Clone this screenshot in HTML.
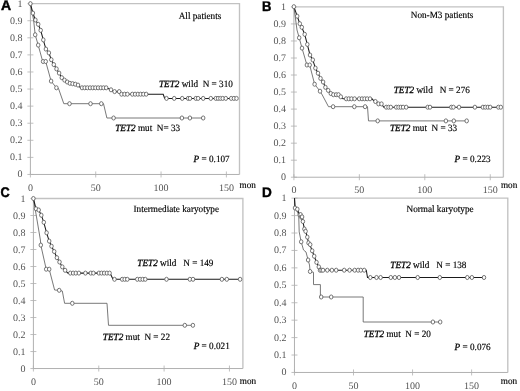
<!DOCTYPE html><html><head><meta charset="utf-8"><style>html,body{margin:0;padding:0;background:#fff;overflow:hidden}svg{display:block;filter:blur(0.3px);text-rendering:geometricPrecision}</style></head><body>
<svg width="520" height="391" viewBox="0 0 520 391">
<rect width="520" height="391" fill="#fff"/>
<g><path d="M30.4,3.65H239.5V174.46" fill="none" stroke="#c2c2c2" stroke-width="1.35"/><path d="M30.4,3.65V174.46H239.5" fill="none" stroke="#b0b0b0" stroke-width="1"/><path d="M27.4,174.46H33.4" stroke="#b0b0b0" stroke-width="0.8"/><text x="22.4" y="177.46" text-anchor="end" font-family='"Liberation Serif", serif' font-size="10" fill="#555555">0</text><path d="M27.4,157.38H33.4" stroke="#b0b0b0" stroke-width="0.8"/><text x="22.4" y="160.38" text-anchor="end" font-family='"Liberation Serif", serif' font-size="10" fill="#555555">0.1</text><path d="M27.4,140.3H33.4" stroke="#b0b0b0" stroke-width="0.8"/><text x="22.4" y="143.3" text-anchor="end" font-family='"Liberation Serif", serif' font-size="10" fill="#555555">0.2</text><path d="M27.4,123.22H33.4" stroke="#b0b0b0" stroke-width="0.8"/><text x="22.4" y="126.22" text-anchor="end" font-family='"Liberation Serif", serif' font-size="10" fill="#555555">0.3</text><path d="M27.4,106.14H33.4" stroke="#b0b0b0" stroke-width="0.8"/><text x="22.4" y="109.14" text-anchor="end" font-family='"Liberation Serif", serif' font-size="10" fill="#555555">0.4</text><path d="M27.4,89.06H33.4" stroke="#b0b0b0" stroke-width="0.8"/><text x="22.4" y="92.06" text-anchor="end" font-family='"Liberation Serif", serif' font-size="10" fill="#555555">0.5</text><path d="M27.4,71.97H33.4" stroke="#b0b0b0" stroke-width="0.8"/><text x="22.4" y="74.97" text-anchor="end" font-family='"Liberation Serif", serif' font-size="10" fill="#555555">0.6</text><path d="M27.4,54.89H33.4" stroke="#b0b0b0" stroke-width="0.8"/><text x="22.4" y="57.89" text-anchor="end" font-family='"Liberation Serif", serif' font-size="10" fill="#555555">0.7</text><path d="M27.4,37.81H33.4" stroke="#b0b0b0" stroke-width="0.8"/><text x="22.4" y="40.81" text-anchor="end" font-family='"Liberation Serif", serif' font-size="10" fill="#555555">0.8</text><path d="M27.4,20.73H33.4" stroke="#b0b0b0" stroke-width="0.8"/><text x="22.4" y="23.73" text-anchor="end" font-family='"Liberation Serif", serif' font-size="10" fill="#555555">0.9</text><path d="M27.4,3.65H33.4" stroke="#b0b0b0" stroke-width="0.8"/><text x="22.4" y="6.65" text-anchor="end" font-family='"Liberation Serif", serif' font-size="10" fill="#555555">1</text><path d="M30.4,171.46V177.46" stroke="#b0b0b0" stroke-width="0.8"/><text x="30.4" y="190.6" text-anchor="middle" font-family='"Liberation Serif", serif' font-size="10" fill="#555555">0</text><path d="M95.73,171.46V177.46" stroke="#b0b0b0" stroke-width="0.8"/><text x="95.73" y="190.6" text-anchor="middle" font-family='"Liberation Serif", serif' font-size="10" fill="#555555">50</text><path d="M161.06,171.46V177.46" stroke="#b0b0b0" stroke-width="0.8"/><text x="161.06" y="190.6" text-anchor="middle" font-family='"Liberation Serif", serif' font-size="10" fill="#555555">100</text><path d="M226.39,171.46V177.46" stroke="#b0b0b0" stroke-width="0.8"/><text x="226.39" y="190.6" text-anchor="middle" font-family='"Liberation Serif", serif' font-size="10" fill="#555555">150</text><text x="239.6" y="187.8" font-family='"Liberation Serif", serif' font-size="9.6" fill="#000" stroke="#000" stroke-width="0.15" textLength="16.34" lengthAdjust="spacingAndGlyphs">mon</text><text x="1.1" y="10.4" font-family='"Liberation Sans", sans-serif' font-weight="bold" font-size="14" fill="#000" stroke="#000" stroke-width="0.45">A</text><polyline points="30.4,3.65 33.6,20 35.2,34.8 38.2,45.1 42.3,60 43.1,61.5 45.7,61.5 51.1,81.1 56.4,87.8 58.5,88.5 63.8,103.7 103.5,103.7 106.9,118 203.2,118" fill="none" stroke="#6a6a6a" stroke-width="0.9"/><polyline points="30.4,3.65 32.9,13.1 35.4,20 38.2,24.3 40.7,30.3 43.3,39.9 45.9,49.1 48.9,52.9 51.3,59.7 53.8,64.6 56.5,68.9 59.1,73.1 61.8,77.7 64.5,80.1 67.2,82 69.9,83.3 72.6,83.7 75.3,84.2 78,85.1 80.5,87.8 106.5,87.8 111,89.8 113.6,91.6 119.2,91.6 121.5,94.2 163.2,94.2 164.7,98.4 236.5,98.4" fill="none" stroke="#1a1a1a" stroke-width="1.05"/><ellipse cx="30.4" cy="3.65" rx="1.75" ry="2.05" fill="#fff" stroke="#555" stroke-width="0.8"/><ellipse cx="35.2" cy="34.8" rx="1.75" ry="2.05" fill="#fff" stroke="#555" stroke-width="0.8"/><ellipse cx="38.2" cy="45.1" rx="1.75" ry="2.05" fill="#fff" stroke="#555" stroke-width="0.8"/><ellipse cx="43.1" cy="61.5" rx="1.75" ry="2.05" fill="#fff" stroke="#555" stroke-width="0.8"/><ellipse cx="45.7" cy="61.5" rx="1.75" ry="2.05" fill="#fff" stroke="#555" stroke-width="0.8"/><ellipse cx="51.1" cy="81.1" rx="1.75" ry="2.05" fill="#fff" stroke="#555" stroke-width="0.8"/><ellipse cx="56.4" cy="87.8" rx="1.75" ry="2.05" fill="#fff" stroke="#555" stroke-width="0.8"/><ellipse cx="69.5" cy="103.7" rx="1.75" ry="2.05" fill="#fff" stroke="#555" stroke-width="0.8"/><ellipse cx="90.5" cy="103.7" rx="1.75" ry="2.05" fill="#fff" stroke="#555" stroke-width="0.8"/><ellipse cx="101.3" cy="103.7" rx="1.75" ry="2.05" fill="#fff" stroke="#555" stroke-width="0.8"/><ellipse cx="113.6" cy="118" rx="1.75" ry="2.05" fill="#fff" stroke="#555" stroke-width="0.8"/><ellipse cx="181.9" cy="118" rx="1.75" ry="2.05" fill="#fff" stroke="#555" stroke-width="0.8"/><ellipse cx="189.9" cy="118" rx="1.75" ry="2.05" fill="#fff" stroke="#555" stroke-width="0.8"/><ellipse cx="203.2" cy="118" rx="1.75" ry="2.05" fill="#fff" stroke="#555" stroke-width="0.8"/><ellipse cx="32.9" cy="13.1" rx="1.75" ry="2.05" fill="#fff" stroke="#555" stroke-width="0.8"/><ellipse cx="35.4" cy="20" rx="1.75" ry="2.05" fill="#fff" stroke="#555" stroke-width="0.8"/><ellipse cx="38.2" cy="24.3" rx="1.75" ry="2.05" fill="#fff" stroke="#555" stroke-width="0.8"/><ellipse cx="40.7" cy="30.3" rx="1.75" ry="2.05" fill="#fff" stroke="#555" stroke-width="0.8"/><ellipse cx="43.3" cy="39.9" rx="1.75" ry="2.05" fill="#fff" stroke="#555" stroke-width="0.8"/><ellipse cx="45.9" cy="49.1" rx="1.75" ry="2.05" fill="#fff" stroke="#555" stroke-width="0.8"/><ellipse cx="48.9" cy="52.9" rx="1.75" ry="2.05" fill="#fff" stroke="#555" stroke-width="0.8"/><ellipse cx="51.3" cy="59.7" rx="1.75" ry="2.05" fill="#fff" stroke="#555" stroke-width="0.8"/><ellipse cx="53.8" cy="64.6" rx="1.75" ry="2.05" fill="#fff" stroke="#555" stroke-width="0.8"/><ellipse cx="56.5" cy="68.9" rx="1.75" ry="2.05" fill="#fff" stroke="#555" stroke-width="0.8"/><ellipse cx="59.1" cy="73.1" rx="1.75" ry="2.05" fill="#fff" stroke="#555" stroke-width="0.8"/><ellipse cx="61.8" cy="77.7" rx="1.75" ry="2.05" fill="#fff" stroke="#555" stroke-width="0.8"/><ellipse cx="64.5" cy="80.1" rx="1.75" ry="2.05" fill="#fff" stroke="#555" stroke-width="0.8"/><ellipse cx="67.2" cy="82" rx="1.75" ry="2.05" fill="#fff" stroke="#555" stroke-width="0.8"/><ellipse cx="69.9" cy="83.3" rx="1.75" ry="2.05" fill="#fff" stroke="#555" stroke-width="0.8"/><ellipse cx="72.6" cy="83.7" rx="1.75" ry="2.05" fill="#fff" stroke="#555" stroke-width="0.8"/><ellipse cx="75.3" cy="84.2" rx="1.75" ry="2.05" fill="#fff" stroke="#555" stroke-width="0.8"/><ellipse cx="78" cy="85.1" rx="1.75" ry="2.05" fill="#fff" stroke="#555" stroke-width="0.8"/><ellipse cx="82" cy="87.8" rx="1.75" ry="2.05" fill="#fff" stroke="#555" stroke-width="0.8"/><ellipse cx="84.69" cy="87.8" rx="1.75" ry="2.05" fill="#fff" stroke="#555" stroke-width="0.8"/><ellipse cx="87.38" cy="87.8" rx="1.75" ry="2.05" fill="#fff" stroke="#555" stroke-width="0.8"/><ellipse cx="90.07" cy="87.8" rx="1.75" ry="2.05" fill="#fff" stroke="#555" stroke-width="0.8"/><ellipse cx="92.76" cy="87.8" rx="1.75" ry="2.05" fill="#fff" stroke="#555" stroke-width="0.8"/><ellipse cx="95.44" cy="87.8" rx="1.75" ry="2.05" fill="#fff" stroke="#555" stroke-width="0.8"/><ellipse cx="98.13" cy="87.8" rx="1.75" ry="2.05" fill="#fff" stroke="#555" stroke-width="0.8"/><ellipse cx="100.82" cy="87.8" rx="1.75" ry="2.05" fill="#fff" stroke="#555" stroke-width="0.8"/><ellipse cx="103.51" cy="87.8" rx="1.75" ry="2.05" fill="#fff" stroke="#555" stroke-width="0.8"/><ellipse cx="106.2" cy="87.8" rx="1.75" ry="2.05" fill="#fff" stroke="#555" stroke-width="0.8"/><ellipse cx="111" cy="89.8" rx="1.75" ry="2.05" fill="#fff" stroke="#555" stroke-width="0.8"/><ellipse cx="114.6" cy="91.6" rx="1.75" ry="2.05" fill="#fff" stroke="#555" stroke-width="0.8"/><ellipse cx="119.2" cy="91.6" rx="1.75" ry="2.05" fill="#fff" stroke="#555" stroke-width="0.8"/><ellipse cx="121.5" cy="94.2" rx="1.75" ry="2.05" fill="#fff" stroke="#555" stroke-width="0.8"/><ellipse cx="124.6" cy="94.2" rx="1.75" ry="2.05" fill="#fff" stroke="#555" stroke-width="0.8"/><ellipse cx="127.4" cy="94.2" rx="1.75" ry="2.05" fill="#fff" stroke="#555" stroke-width="0.8"/><ellipse cx="132.3" cy="94.2" rx="1.75" ry="2.05" fill="#fff" stroke="#555" stroke-width="0.8"/><ellipse cx="135.08" cy="94.2" rx="1.75" ry="2.05" fill="#fff" stroke="#555" stroke-width="0.8"/><ellipse cx="137.86" cy="94.2" rx="1.75" ry="2.05" fill="#fff" stroke="#555" stroke-width="0.8"/><ellipse cx="140.64" cy="94.2" rx="1.75" ry="2.05" fill="#fff" stroke="#555" stroke-width="0.8"/><ellipse cx="143.42" cy="94.2" rx="1.75" ry="2.05" fill="#fff" stroke="#555" stroke-width="0.8"/><ellipse cx="146.2" cy="94.2" rx="1.75" ry="2.05" fill="#fff" stroke="#555" stroke-width="0.8"/><ellipse cx="166.5" cy="98.4" rx="1.75" ry="2.05" fill="#fff" stroke="#555" stroke-width="0.8"/><ellipse cx="174.2" cy="98.4" rx="1.75" ry="2.05" fill="#fff" stroke="#555" stroke-width="0.8"/><ellipse cx="182.2" cy="98.4" rx="1.75" ry="2.05" fill="#fff" stroke="#555" stroke-width="0.8"/><ellipse cx="188.1" cy="98.4" rx="1.75" ry="2.05" fill="#fff" stroke="#555" stroke-width="0.8"/><ellipse cx="190" cy="98.4" rx="1.75" ry="2.05" fill="#fff" stroke="#555" stroke-width="0.8"/><ellipse cx="195.8" cy="98.4" rx="1.75" ry="2.05" fill="#fff" stroke="#555" stroke-width="0.8"/><ellipse cx="198.1" cy="98.4" rx="1.75" ry="2.05" fill="#fff" stroke="#555" stroke-width="0.8"/><ellipse cx="203.2" cy="98.4" rx="1.75" ry="2.05" fill="#fff" stroke="#555" stroke-width="0.8"/><ellipse cx="210.8" cy="98.4" rx="1.75" ry="2.05" fill="#fff" stroke="#555" stroke-width="0.8"/><ellipse cx="215.8" cy="98.4" rx="1.75" ry="2.05" fill="#fff" stroke="#555" stroke-width="0.8"/><ellipse cx="218.1" cy="98.4" rx="1.75" ry="2.05" fill="#fff" stroke="#555" stroke-width="0.8"/><ellipse cx="220.4" cy="98.4" rx="1.75" ry="2.05" fill="#fff" stroke="#555" stroke-width="0.8"/><ellipse cx="222.7" cy="98.4" rx="1.75" ry="2.05" fill="#fff" stroke="#555" stroke-width="0.8"/><ellipse cx="225.8" cy="98.4" rx="1.75" ry="2.05" fill="#fff" stroke="#555" stroke-width="0.8"/><ellipse cx="231.2" cy="98.4" rx="1.75" ry="2.05" fill="#fff" stroke="#555" stroke-width="0.8"/><ellipse cx="233.9" cy="98.4" rx="1.75" ry="2.05" fill="#fff" stroke="#555" stroke-width="0.8"/><ellipse cx="236.5" cy="98.4" rx="1.75" ry="2.05" fill="#fff" stroke="#555" stroke-width="0.8"/><text x="178.7" y="18.6" font-family='"Liberation Serif", serif' font-size="9.6" fill="#000" stroke="#000" stroke-width="0.16" xml:space="preserve" textLength="42.62" lengthAdjust="spacingAndGlyphs">All patients</text><text x="159" y="86.8" font-family='"Liberation Serif", serif' font-size="9.6" fill="#000" stroke="#000" stroke-width="0.16" xml:space="preserve" textLength="73.86" lengthAdjust="spacingAndGlyphs"><tspan font-style="italic" stroke-width="0.28">TET2</tspan> wild  N = 310</text><text x="115.2" y="130.8" font-family='"Liberation Serif", serif' font-size="9.6" fill="#000" stroke="#000" stroke-width="0.16" xml:space="preserve" textLength="64.92" lengthAdjust="spacingAndGlyphs"><tspan font-style="italic" stroke-width="0.28">TET2</tspan> mut  N= 33</text><text x="193.6" y="161.9" font-family='"Liberation Serif", serif' font-size="9.6" fill="#000" stroke="#000" stroke-width="0.16" xml:space="preserve" textLength="36.08" lengthAdjust="spacingAndGlyphs"><tspan font-style="italic" stroke-width="0.28">P</tspan> = 0.107</text></g>
<g><path d="M293.9,6.9H503.4V177.23" fill="none" stroke="#c2c2c2" stroke-width="1.35"/><path d="M293.9,6.9V177.23H503.4" fill="none" stroke="#b0b0b0" stroke-width="1"/><path d="M290.9,177.23H296.9" stroke="#b0b0b0" stroke-width="0.8"/><text x="285.9" y="180.23" text-anchor="end" font-family='"Liberation Serif", serif' font-size="10" fill="#555555">0</text><path d="M290.9,160.2H296.9" stroke="#b0b0b0" stroke-width="0.8"/><text x="285.9" y="163.2" text-anchor="end" font-family='"Liberation Serif", serif' font-size="10" fill="#555555">0.1</text><path d="M290.9,143.16H296.9" stroke="#b0b0b0" stroke-width="0.8"/><text x="285.9" y="146.16" text-anchor="end" font-family='"Liberation Serif", serif' font-size="10" fill="#555555">0.2</text><path d="M290.9,126.13H296.9" stroke="#b0b0b0" stroke-width="0.8"/><text x="285.9" y="129.13" text-anchor="end" font-family='"Liberation Serif", serif' font-size="10" fill="#555555">0.3</text><path d="M290.9,109.1H296.9" stroke="#b0b0b0" stroke-width="0.8"/><text x="285.9" y="112.1" text-anchor="end" font-family='"Liberation Serif", serif' font-size="10" fill="#555555">0.4</text><path d="M290.9,92.06H296.9" stroke="#b0b0b0" stroke-width="0.8"/><text x="285.9" y="95.06" text-anchor="end" font-family='"Liberation Serif", serif' font-size="10" fill="#555555">0.5</text><path d="M290.9,75.03H296.9" stroke="#b0b0b0" stroke-width="0.8"/><text x="285.9" y="78.03" text-anchor="end" font-family='"Liberation Serif", serif' font-size="10" fill="#555555">0.6</text><path d="M290.9,58H296.9" stroke="#b0b0b0" stroke-width="0.8"/><text x="285.9" y="61" text-anchor="end" font-family='"Liberation Serif", serif' font-size="10" fill="#555555">0.7</text><path d="M290.9,40.97H296.9" stroke="#b0b0b0" stroke-width="0.8"/><text x="285.9" y="43.97" text-anchor="end" font-family='"Liberation Serif", serif' font-size="10" fill="#555555">0.8</text><path d="M290.9,23.93H296.9" stroke="#b0b0b0" stroke-width="0.8"/><text x="285.9" y="26.93" text-anchor="end" font-family='"Liberation Serif", serif' font-size="10" fill="#555555">0.9</text><path d="M290.9,6.9H296.9" stroke="#b0b0b0" stroke-width="0.8"/><text x="285.9" y="9.9" text-anchor="end" font-family='"Liberation Serif", serif' font-size="10" fill="#555555">1</text><path d="M293.9,174.23V180.23" stroke="#b0b0b0" stroke-width="0.8"/><text x="293.9" y="193" text-anchor="middle" font-family='"Liberation Serif", serif' font-size="10" fill="#555555">0</text><path d="M359.35,174.23V180.23" stroke="#b0b0b0" stroke-width="0.8"/><text x="359.35" y="193" text-anchor="middle" font-family='"Liberation Serif", serif' font-size="10" fill="#555555">50</text><path d="M424.8,174.23V180.23" stroke="#b0b0b0" stroke-width="0.8"/><text x="424.8" y="193" text-anchor="middle" font-family='"Liberation Serif", serif' font-size="10" fill="#555555">100</text><path d="M490.25,174.23V180.23" stroke="#b0b0b0" stroke-width="0.8"/><text x="490.25" y="193" text-anchor="middle" font-family='"Liberation Serif", serif' font-size="10" fill="#555555">150</text><text x="500.9" y="187.5" font-family='"Liberation Serif", serif' font-size="9.6" fill="#000" stroke="#000" stroke-width="0.15" textLength="16.34" lengthAdjust="spacingAndGlyphs">mon</text><text x="261.9" y="11.1" font-family='"Liberation Sans", sans-serif' font-weight="bold" font-size="14" fill="#000" stroke="#000" stroke-width="0.45" textLength="9.4" lengthAdjust="spacingAndGlyphs">B</text><polyline points="293.9,6.7 297,30 299.2,37.8 302,48.1 306.9,65 309.7,65 314.6,84.2 320,91.2 322.3,95 328.5,106.7 367.5,106.7 368.5,120.9 466.7,120.9" fill="none" stroke="#6a6a6a" stroke-width="0.9"/><polyline points="293.9,6.7 297.2,16.2 299.8,23.7 301.8,27.3 304.7,34.3 307.3,44.4 310,55 312.8,59.9 315.4,68.1 318,73.2 320.5,78.4 323.1,82 325.4,87.3 328.2,90.4 330.8,93.5 333.4,94.7 338.5,94.7 340.8,96.8 343,98.8 372,98.8 374.6,101.5 376.5,101.5 378.5,103.9 381.5,103.9 383.8,107.2 500.8,107.2" fill="none" stroke="#1a1a1a" stroke-width="1.05"/><ellipse cx="293.9" cy="6.7" rx="1.75" ry="2.05" fill="#fff" stroke="#555" stroke-width="0.8"/><ellipse cx="299.2" cy="37.8" rx="1.75" ry="2.05" fill="#fff" stroke="#555" stroke-width="0.8"/><ellipse cx="302" cy="48.1" rx="1.75" ry="2.05" fill="#fff" stroke="#555" stroke-width="0.8"/><ellipse cx="306.9" cy="65" rx="1.75" ry="2.05" fill="#fff" stroke="#555" stroke-width="0.8"/><ellipse cx="309.7" cy="65" rx="1.75" ry="2.05" fill="#fff" stroke="#555" stroke-width="0.8"/><ellipse cx="314.6" cy="84.2" rx="1.75" ry="2.05" fill="#fff" stroke="#555" stroke-width="0.8"/><ellipse cx="320" cy="91.2" rx="1.75" ry="2.05" fill="#fff" stroke="#555" stroke-width="0.8"/><ellipse cx="333.1" cy="106.7" rx="1.75" ry="2.05" fill="#fff" stroke="#555" stroke-width="0.8"/><ellipse cx="354.3" cy="106.7" rx="1.75" ry="2.05" fill="#fff" stroke="#555" stroke-width="0.8"/><ellipse cx="365.1" cy="106.7" rx="1.75" ry="2.05" fill="#fff" stroke="#555" stroke-width="0.8"/><ellipse cx="377.7" cy="120.9" rx="1.75" ry="2.05" fill="#fff" stroke="#555" stroke-width="0.8"/><ellipse cx="445.9" cy="120.9" rx="1.75" ry="2.05" fill="#fff" stroke="#555" stroke-width="0.8"/><ellipse cx="453.8" cy="120.9" rx="1.75" ry="2.05" fill="#fff" stroke="#555" stroke-width="0.8"/><ellipse cx="466.7" cy="120.9" rx="1.75" ry="2.05" fill="#fff" stroke="#555" stroke-width="0.8"/><ellipse cx="297.2" cy="16.2" rx="1.75" ry="2.05" fill="#fff" stroke="#555" stroke-width="0.8"/><ellipse cx="299.8" cy="23.7" rx="1.75" ry="2.05" fill="#fff" stroke="#555" stroke-width="0.8"/><ellipse cx="301.8" cy="27.3" rx="1.75" ry="2.05" fill="#fff" stroke="#555" stroke-width="0.8"/><ellipse cx="304.7" cy="34.3" rx="1.75" ry="2.05" fill="#fff" stroke="#555" stroke-width="0.8"/><ellipse cx="307.3" cy="44.4" rx="1.75" ry="2.05" fill="#fff" stroke="#555" stroke-width="0.8"/><ellipse cx="310" cy="55" rx="1.75" ry="2.05" fill="#fff" stroke="#555" stroke-width="0.8"/><ellipse cx="312.8" cy="59.9" rx="1.75" ry="2.05" fill="#fff" stroke="#555" stroke-width="0.8"/><ellipse cx="315.4" cy="68.1" rx="1.75" ry="2.05" fill="#fff" stroke="#555" stroke-width="0.8"/><ellipse cx="318" cy="73.2" rx="1.75" ry="2.05" fill="#fff" stroke="#555" stroke-width="0.8"/><ellipse cx="320.5" cy="78.4" rx="1.75" ry="2.05" fill="#fff" stroke="#555" stroke-width="0.8"/><ellipse cx="323.1" cy="82" rx="1.75" ry="2.05" fill="#fff" stroke="#555" stroke-width="0.8"/><ellipse cx="325.4" cy="87.3" rx="1.75" ry="2.05" fill="#fff" stroke="#555" stroke-width="0.8"/><ellipse cx="328.2" cy="90.4" rx="1.75" ry="2.05" fill="#fff" stroke="#555" stroke-width="0.8"/><ellipse cx="330.8" cy="93.5" rx="1.75" ry="2.05" fill="#fff" stroke="#555" stroke-width="0.8"/><ellipse cx="333.4" cy="94.7" rx="1.75" ry="2.05" fill="#fff" stroke="#555" stroke-width="0.8"/><ellipse cx="336.2" cy="94.7" rx="1.75" ry="2.05" fill="#fff" stroke="#555" stroke-width="0.8"/><ellipse cx="338.5" cy="94.7" rx="1.75" ry="2.05" fill="#fff" stroke="#555" stroke-width="0.8"/><ellipse cx="340.8" cy="96.8" rx="1.75" ry="2.05" fill="#fff" stroke="#555" stroke-width="0.8"/><ellipse cx="346.2" cy="98.8" rx="1.75" ry="2.05" fill="#fff" stroke="#555" stroke-width="0.8"/><ellipse cx="348.8" cy="98.8" rx="1.75" ry="2.05" fill="#fff" stroke="#555" stroke-width="0.8"/><ellipse cx="351.5" cy="98.8" rx="1.75" ry="2.05" fill="#fff" stroke="#555" stroke-width="0.8"/><ellipse cx="354.6" cy="98.8" rx="1.75" ry="2.05" fill="#fff" stroke="#555" stroke-width="0.8"/><ellipse cx="359.2" cy="98.8" rx="1.75" ry="2.05" fill="#fff" stroke="#555" stroke-width="0.8"/><ellipse cx="362" cy="98.8" rx="1.75" ry="2.05" fill="#fff" stroke="#555" stroke-width="0.8"/><ellipse cx="364.6" cy="98.8" rx="1.75" ry="2.05" fill="#fff" stroke="#555" stroke-width="0.8"/><ellipse cx="367.2" cy="98.8" rx="1.75" ry="2.05" fill="#fff" stroke="#555" stroke-width="0.8"/><ellipse cx="370" cy="98.8" rx="1.75" ry="2.05" fill="#fff" stroke="#555" stroke-width="0.8"/><ellipse cx="375.4" cy="101.5" rx="1.75" ry="2.05" fill="#fff" stroke="#555" stroke-width="0.8"/><ellipse cx="378.5" cy="103.9" rx="1.75" ry="2.05" fill="#fff" stroke="#555" stroke-width="0.8"/><ellipse cx="381.5" cy="103.9" rx="1.75" ry="2.05" fill="#fff" stroke="#555" stroke-width="0.8"/><ellipse cx="386.2" cy="107.2" rx="1.75" ry="2.05" fill="#fff" stroke="#555" stroke-width="0.8"/><ellipse cx="388.5" cy="107.2" rx="1.75" ry="2.05" fill="#fff" stroke="#555" stroke-width="0.8"/><ellipse cx="390.8" cy="107.2" rx="1.75" ry="2.05" fill="#fff" stroke="#555" stroke-width="0.8"/><ellipse cx="396.2" cy="107.2" rx="1.75" ry="2.05" fill="#fff" stroke="#555" stroke-width="0.8"/><ellipse cx="398.5" cy="107.2" rx="1.75" ry="2.05" fill="#fff" stroke="#555" stroke-width="0.8"/><ellipse cx="400.8" cy="107.2" rx="1.75" ry="2.05" fill="#fff" stroke="#555" stroke-width="0.8"/><ellipse cx="403.1" cy="107.2" rx="1.75" ry="2.05" fill="#fff" stroke="#555" stroke-width="0.8"/><ellipse cx="406.2" cy="107.2" rx="1.75" ry="2.05" fill="#fff" stroke="#555" stroke-width="0.8"/><ellipse cx="427.7" cy="107.2" rx="1.75" ry="2.05" fill="#fff" stroke="#555" stroke-width="0.8"/><ellipse cx="430" cy="107.2" rx="1.75" ry="2.05" fill="#fff" stroke="#555" stroke-width="0.8"/><ellipse cx="451.3" cy="107.2" rx="1.75" ry="2.05" fill="#fff" stroke="#555" stroke-width="0.8"/><ellipse cx="453.4" cy="107.2" rx="1.75" ry="2.05" fill="#fff" stroke="#555" stroke-width="0.8"/><ellipse cx="459" cy="107.2" rx="1.75" ry="2.05" fill="#fff" stroke="#555" stroke-width="0.8"/><ellipse cx="474.9" cy="107.2" rx="1.75" ry="2.05" fill="#fff" stroke="#555" stroke-width="0.8"/><ellipse cx="482.9" cy="107.2" rx="1.75" ry="2.05" fill="#fff" stroke="#555" stroke-width="0.8"/><ellipse cx="485.3" cy="107.2" rx="1.75" ry="2.05" fill="#fff" stroke="#555" stroke-width="0.8"/><ellipse cx="487.8" cy="107.2" rx="1.75" ry="2.05" fill="#fff" stroke="#555" stroke-width="0.8"/><ellipse cx="490.2" cy="107.2" rx="1.75" ry="2.05" fill="#fff" stroke="#555" stroke-width="0.8"/><ellipse cx="498.4" cy="107.2" rx="1.75" ry="2.05" fill="#fff" stroke="#555" stroke-width="0.8"/><ellipse cx="500.8" cy="107.2" rx="1.75" ry="2.05" fill="#fff" stroke="#555" stroke-width="0.8"/><text x="410.8" y="17.6" font-family='"Liberation Serif", serif' font-size="9.6" fill="#000" stroke="#000" stroke-width="0.16" xml:space="preserve" textLength="62.53" lengthAdjust="spacingAndGlyphs">Non-M3 patients</text><text x="393.7" y="92.5" font-family='"Liberation Serif", serif' font-size="9.6" fill="#000" stroke="#000" stroke-width="0.16" xml:space="preserve" textLength="76.16" lengthAdjust="spacingAndGlyphs"><tspan font-style="italic" stroke-width="0.28">TET2</tspan> wild   N = 276</text><text x="390" y="130.8" font-family='"Liberation Serif", serif' font-size="9.6" fill="#000" stroke="#000" stroke-width="0.16" xml:space="preserve" textLength="67.22" lengthAdjust="spacingAndGlyphs"><tspan font-style="italic" stroke-width="0.28">TET2</tspan> mut  N = 33</text><text x="454.6" y="162.3" font-family='"Liberation Serif", serif' font-size="9.6" fill="#000" stroke="#000" stroke-width="0.16" xml:space="preserve" textLength="36.08" lengthAdjust="spacingAndGlyphs"><tspan font-style="italic" stroke-width="0.28">P</tspan> = 0.223</text></g>
<g><path d="M33.4,198.5H242.9V368.54" fill="none" stroke="#c2c2c2" stroke-width="1.35"/><path d="M33.4,198.5V368.54H242.9" fill="none" stroke="#b0b0b0" stroke-width="1"/><path d="M30.4,368.54H36.4" stroke="#b0b0b0" stroke-width="0.8"/><text x="25.4" y="371.54" text-anchor="end" font-family='"Liberation Serif", serif' font-size="10" fill="#555555">0</text><path d="M30.4,351.54H36.4" stroke="#b0b0b0" stroke-width="0.8"/><text x="25.4" y="354.54" text-anchor="end" font-family='"Liberation Serif", serif' font-size="10" fill="#555555">0.1</text><path d="M30.4,334.53H36.4" stroke="#b0b0b0" stroke-width="0.8"/><text x="25.4" y="337.53" text-anchor="end" font-family='"Liberation Serif", serif' font-size="10" fill="#555555">0.2</text><path d="M30.4,317.53H36.4" stroke="#b0b0b0" stroke-width="0.8"/><text x="25.4" y="320.53" text-anchor="end" font-family='"Liberation Serif", serif' font-size="10" fill="#555555">0.3</text><path d="M30.4,300.52H36.4" stroke="#b0b0b0" stroke-width="0.8"/><text x="25.4" y="303.52" text-anchor="end" font-family='"Liberation Serif", serif' font-size="10" fill="#555555">0.4</text><path d="M30.4,283.52H36.4" stroke="#b0b0b0" stroke-width="0.8"/><text x="25.4" y="286.52" text-anchor="end" font-family='"Liberation Serif", serif' font-size="10" fill="#555555">0.5</text><path d="M30.4,266.52H36.4" stroke="#b0b0b0" stroke-width="0.8"/><text x="25.4" y="269.52" text-anchor="end" font-family='"Liberation Serif", serif' font-size="10" fill="#555555">0.6</text><path d="M30.4,249.51H36.4" stroke="#b0b0b0" stroke-width="0.8"/><text x="25.4" y="252.51" text-anchor="end" font-family='"Liberation Serif", serif' font-size="10" fill="#555555">0.7</text><path d="M30.4,232.51H36.4" stroke="#b0b0b0" stroke-width="0.8"/><text x="25.4" y="235.51" text-anchor="end" font-family='"Liberation Serif", serif' font-size="10" fill="#555555">0.8</text><path d="M30.4,215.5H36.4" stroke="#b0b0b0" stroke-width="0.8"/><text x="25.4" y="218.5" text-anchor="end" font-family='"Liberation Serif", serif' font-size="10" fill="#555555">0.9</text><path d="M30.4,198.5H36.4" stroke="#b0b0b0" stroke-width="0.8"/><text x="25.4" y="201.5" text-anchor="end" font-family='"Liberation Serif", serif' font-size="10" fill="#555555">1</text><path d="M33.4,365.54V371.54" stroke="#b0b0b0" stroke-width="0.8"/><text x="33.4" y="384.6" text-anchor="middle" font-family='"Liberation Serif", serif' font-size="10" fill="#555555">0</text><path d="M98.75,365.54V371.54" stroke="#b0b0b0" stroke-width="0.8"/><text x="98.75" y="384.6" text-anchor="middle" font-family='"Liberation Serif", serif' font-size="10" fill="#555555">50</text><path d="M164.1,365.54V371.54" stroke="#b0b0b0" stroke-width="0.8"/><text x="164.1" y="384.6" text-anchor="middle" font-family='"Liberation Serif", serif' font-size="10" fill="#555555">100</text><path d="M229.45,365.54V371.54" stroke="#b0b0b0" stroke-width="0.8"/><text x="229.45" y="384.6" text-anchor="middle" font-family='"Liberation Serif", serif' font-size="10" fill="#555555">150</text><text x="239.8" y="383.5" font-family='"Liberation Serif", serif' font-size="9.6" fill="#000" stroke="#000" stroke-width="0.15" textLength="16.34" lengthAdjust="spacingAndGlyphs">mon</text><text x="0.4" y="197" font-family='"Liberation Sans", sans-serif' font-weight="bold" font-size="14" fill="#000" stroke="#000" stroke-width="0.45" textLength="9.2" lengthAdjust="spacingAndGlyphs">C</text><polyline points="33.4,198.5 40.4,240 40.8,245.1 46.2,269.2 49.2,269.2 54.6,290 59.2,290.3 62.3,291 64.6,303.3 107,303.3 108.5,325.3 192.9,325.3" fill="none" stroke="#6a6a6a" stroke-width="0.9"/><polyline points="33.4,198.5 36,208.8 38.7,210 41.3,215.2 43.8,222.3 46.6,232.8 49.2,241.1 51.5,246.2 54.2,251.5 56.9,257.7 59.5,262 62.3,266.9 65.1,270.3 68,273.1 110,273.1 113,279.3 240.1,279.3" fill="none" stroke="#1a1a1a" stroke-width="1.05"/><ellipse cx="33.4" cy="198.5" rx="1.75" ry="2.05" fill="#fff" stroke="#555" stroke-width="0.8"/><ellipse cx="40.8" cy="245.1" rx="1.75" ry="2.05" fill="#fff" stroke="#555" stroke-width="0.8"/><ellipse cx="46.2" cy="269.2" rx="1.75" ry="2.05" fill="#fff" stroke="#555" stroke-width="0.8"/><ellipse cx="49.2" cy="269.2" rx="1.75" ry="2.05" fill="#fff" stroke="#555" stroke-width="0.8"/><ellipse cx="59.2" cy="290.3" rx="1.75" ry="2.05" fill="#fff" stroke="#555" stroke-width="0.8"/><ellipse cx="72.3" cy="303.3" rx="1.75" ry="2.05" fill="#fff" stroke="#555" stroke-width="0.8"/><ellipse cx="184.8" cy="325.3" rx="1.75" ry="2.05" fill="#fff" stroke="#555" stroke-width="0.8"/><ellipse cx="192.9" cy="325.3" rx="1.75" ry="2.05" fill="#fff" stroke="#555" stroke-width="0.8"/><ellipse cx="36" cy="208.8" rx="1.75" ry="2.05" fill="#fff" stroke="#555" stroke-width="0.8"/><ellipse cx="38.7" cy="210" rx="1.75" ry="2.05" fill="#fff" stroke="#555" stroke-width="0.8"/><ellipse cx="41.3" cy="215.2" rx="1.75" ry="2.05" fill="#fff" stroke="#555" stroke-width="0.8"/><ellipse cx="43.8" cy="222.3" rx="1.75" ry="2.05" fill="#fff" stroke="#555" stroke-width="0.8"/><ellipse cx="46.6" cy="232.8" rx="1.75" ry="2.05" fill="#fff" stroke="#555" stroke-width="0.8"/><ellipse cx="49.2" cy="241.1" rx="1.75" ry="2.05" fill="#fff" stroke="#555" stroke-width="0.8"/><ellipse cx="51.5" cy="246.2" rx="1.75" ry="2.05" fill="#fff" stroke="#555" stroke-width="0.8"/><ellipse cx="54.2" cy="251.5" rx="1.75" ry="2.05" fill="#fff" stroke="#555" stroke-width="0.8"/><ellipse cx="56.9" cy="257.7" rx="1.75" ry="2.05" fill="#fff" stroke="#555" stroke-width="0.8"/><ellipse cx="59.5" cy="262" rx="1.75" ry="2.05" fill="#fff" stroke="#555" stroke-width="0.8"/><ellipse cx="62.3" cy="266.9" rx="1.75" ry="2.05" fill="#fff" stroke="#555" stroke-width="0.8"/><ellipse cx="65.1" cy="270.3" rx="1.75" ry="2.05" fill="#fff" stroke="#555" stroke-width="0.8"/><ellipse cx="70.3" cy="273.1" rx="1.75" ry="2.05" fill="#fff" stroke="#555" stroke-width="0.8"/><ellipse cx="73.1" cy="273.1" rx="1.75" ry="2.05" fill="#fff" stroke="#555" stroke-width="0.8"/><ellipse cx="75.8" cy="273.1" rx="1.75" ry="2.05" fill="#fff" stroke="#555" stroke-width="0.8"/><ellipse cx="78.9" cy="273.1" rx="1.75" ry="2.05" fill="#fff" stroke="#555" stroke-width="0.8"/><ellipse cx="85.4" cy="273.1" rx="1.75" ry="2.05" fill="#fff" stroke="#555" stroke-width="0.8"/><ellipse cx="90.8" cy="273.1" rx="1.75" ry="2.05" fill="#fff" stroke="#555" stroke-width="0.8"/><ellipse cx="93.4" cy="273.1" rx="1.75" ry="2.05" fill="#fff" stroke="#555" stroke-width="0.8"/><ellipse cx="98.9" cy="273.1" rx="1.75" ry="2.05" fill="#fff" stroke="#555" stroke-width="0.8"/><ellipse cx="101.5" cy="273.1" rx="1.75" ry="2.05" fill="#fff" stroke="#555" stroke-width="0.8"/><ellipse cx="104.2" cy="273.1" rx="1.75" ry="2.05" fill="#fff" stroke="#555" stroke-width="0.8"/><ellipse cx="106.9" cy="273.1" rx="1.75" ry="2.05" fill="#fff" stroke="#555" stroke-width="0.8"/><ellipse cx="109.6" cy="273.1" rx="1.75" ry="2.05" fill="#fff" stroke="#555" stroke-width="0.8"/><ellipse cx="114.5" cy="279.3" rx="1.75" ry="2.05" fill="#fff" stroke="#555" stroke-width="0.8"/><ellipse cx="122.2" cy="279.3" rx="1.75" ry="2.05" fill="#fff" stroke="#555" stroke-width="0.8"/><ellipse cx="124.7" cy="279.3" rx="1.75" ry="2.05" fill="#fff" stroke="#555" stroke-width="0.8"/><ellipse cx="127.3" cy="279.3" rx="1.75" ry="2.05" fill="#fff" stroke="#555" stroke-width="0.8"/><ellipse cx="137.3" cy="279.3" rx="1.75" ry="2.05" fill="#fff" stroke="#555" stroke-width="0.8"/><ellipse cx="140.1" cy="279.3" rx="1.75" ry="2.05" fill="#fff" stroke="#555" stroke-width="0.8"/><ellipse cx="142.7" cy="279.3" rx="1.75" ry="2.05" fill="#fff" stroke="#555" stroke-width="0.8"/><ellipse cx="145.3" cy="279.3" rx="1.75" ry="2.05" fill="#fff" stroke="#555" stroke-width="0.8"/><ellipse cx="166.5" cy="279.3" rx="1.75" ry="2.05" fill="#fff" stroke="#555" stroke-width="0.8"/><ellipse cx="189.9" cy="279.3" rx="1.75" ry="2.05" fill="#fff" stroke="#555" stroke-width="0.8"/><ellipse cx="193" cy="279.3" rx="1.75" ry="2.05" fill="#fff" stroke="#555" stroke-width="0.8"/><ellipse cx="221.9" cy="279.3" rx="1.75" ry="2.05" fill="#fff" stroke="#555" stroke-width="0.8"/><ellipse cx="226.8" cy="279.3" rx="1.75" ry="2.05" fill="#fff" stroke="#555" stroke-width="0.8"/><ellipse cx="240.1" cy="279.3" rx="1.75" ry="2.05" fill="#fff" stroke="#555" stroke-width="0.8"/><text x="133.5" y="211.5" font-family='"Liberation Serif", serif' font-size="9.6" fill="#000" stroke="#000" stroke-width="0.16" xml:space="preserve" textLength="85.47" lengthAdjust="spacingAndGlyphs">Intermediate karyotype</text><text x="137.3" y="266" font-family='"Liberation Serif", serif' font-size="9.6" fill="#000" stroke="#000" stroke-width="0.16" xml:space="preserve" textLength="76.16" lengthAdjust="spacingAndGlyphs"><tspan font-style="italic" stroke-width="0.28">TET2</tspan> wild   N = 149</text><text x="102.8" y="340" font-family='"Liberation Serif", serif' font-size="9.6" fill="#000" stroke="#000" stroke-width="0.16" xml:space="preserve" textLength="67.22" lengthAdjust="spacingAndGlyphs"><tspan font-style="italic" stroke-width="0.28">TET2</tspan> mut  N = 22</text><text x="193.7" y="349.2" font-family='"Liberation Serif", serif' font-size="9.6" fill="#000" stroke="#000" stroke-width="0.16" xml:space="preserve" textLength="36.08" lengthAdjust="spacingAndGlyphs"><tspan font-style="italic" stroke-width="0.28">P</tspan> = 0.021</text></g>
<g><path d="M294.46,198.15H507.8V372.46" fill="none" stroke="#c2c2c2" stroke-width="1.35"/><path d="M294.46,198.15V372.46H507.8" fill="none" stroke="#b0b0b0" stroke-width="1"/><path d="M291.46,372.46H297.46" stroke="#b0b0b0" stroke-width="0.8"/><text x="286.46" y="375.46" text-anchor="end" font-family='"Liberation Serif", serif' font-size="10" fill="#555555">0</text><path d="M291.46,355.03H297.46" stroke="#b0b0b0" stroke-width="0.8"/><text x="286.46" y="358.03" text-anchor="end" font-family='"Liberation Serif", serif' font-size="10" fill="#555555">0.1</text><path d="M291.46,337.6H297.46" stroke="#b0b0b0" stroke-width="0.8"/><text x="286.46" y="340.6" text-anchor="end" font-family='"Liberation Serif", serif' font-size="10" fill="#555555">0.2</text><path d="M291.46,320.17H297.46" stroke="#b0b0b0" stroke-width="0.8"/><text x="286.46" y="323.17" text-anchor="end" font-family='"Liberation Serif", serif' font-size="10" fill="#555555">0.3</text><path d="M291.46,302.74H297.46" stroke="#b0b0b0" stroke-width="0.8"/><text x="286.46" y="305.74" text-anchor="end" font-family='"Liberation Serif", serif' font-size="10" fill="#555555">0.4</text><path d="M291.46,285.31H297.46" stroke="#b0b0b0" stroke-width="0.8"/><text x="286.46" y="288.31" text-anchor="end" font-family='"Liberation Serif", serif' font-size="10" fill="#555555">0.5</text><path d="M291.46,267.87H297.46" stroke="#b0b0b0" stroke-width="0.8"/><text x="286.46" y="270.87" text-anchor="end" font-family='"Liberation Serif", serif' font-size="10" fill="#555555">0.6</text><path d="M291.46,250.44H297.46" stroke="#b0b0b0" stroke-width="0.8"/><text x="286.46" y="253.44" text-anchor="end" font-family='"Liberation Serif", serif' font-size="10" fill="#555555">0.7</text><path d="M291.46,233.01H297.46" stroke="#b0b0b0" stroke-width="0.8"/><text x="286.46" y="236.01" text-anchor="end" font-family='"Liberation Serif", serif' font-size="10" fill="#555555">0.8</text><path d="M291.46,215.58H297.46" stroke="#b0b0b0" stroke-width="0.8"/><text x="286.46" y="218.58" text-anchor="end" font-family='"Liberation Serif", serif' font-size="10" fill="#555555">0.9</text><path d="M291.46,198.15H297.46" stroke="#b0b0b0" stroke-width="0.8"/><text x="286.46" y="201.15" text-anchor="end" font-family='"Liberation Serif", serif' font-size="10" fill="#555555">1</text><path d="M294.46,369.46V375.46" stroke="#b0b0b0" stroke-width="0.8"/><text x="294.46" y="388.8" text-anchor="middle" font-family='"Liberation Serif", serif' font-size="10" fill="#555555">0</text><path d="M353.51,369.46V375.46" stroke="#b0b0b0" stroke-width="0.8"/><text x="353.51" y="388.8" text-anchor="middle" font-family='"Liberation Serif", serif' font-size="10" fill="#555555">50</text><path d="M412.56,369.46V375.46" stroke="#b0b0b0" stroke-width="0.8"/><text x="412.56" y="388.8" text-anchor="middle" font-family='"Liberation Serif", serif' font-size="10" fill="#555555">100</text><path d="M471.61,369.46V375.46" stroke="#b0b0b0" stroke-width="0.8"/><text x="471.61" y="388.8" text-anchor="middle" font-family='"Liberation Serif", serif' font-size="10" fill="#555555">150</text><text x="500.8" y="384" font-family='"Liberation Serif", serif' font-size="9.6" fill="#000" stroke="#000" stroke-width="0.15" textLength="16.34" lengthAdjust="spacingAndGlyphs">mon</text><text x="262" y="197.1" font-family='"Liberation Sans", sans-serif' font-weight="bold" font-size="14" fill="#000" stroke="#000" stroke-width="0.45" textLength="9.8" lengthAdjust="spacingAndGlyphs">D</text><polyline points="294.5,198.15 295,207 298.7,214.6 299.2,231.9 301.2,241.8 303.5,250 306,252 308.1,260 309.5,265 310.1,271.5 313.5,272.3 313.5,284.6 320.4,284.6 320.4,297 363.2,297 363.2,322 440.2,322" fill="none" stroke="#6a6a6a" stroke-width="0.9"/><polyline points="294.5,198.15 295,207 297.3,209.2 299.6,215 301.5,217.3 302.9,221.5 304.4,229 305.6,231.3 307.3,237.1 308.5,242.9 310.1,245.4 312.2,250.8 314.2,256.2 316.5,262.3 318.8,266.9 319.8,270.2 366.3,270.2 367.5,277.5 484,277.5" fill="none" stroke="#1a1a1a" stroke-width="1.05"/><ellipse cx="301.2" cy="241.8" rx="1.75" ry="2.05" fill="#fff" stroke="#555" stroke-width="0.8"/><ellipse cx="308.1" cy="260" rx="1.75" ry="2.05" fill="#fff" stroke="#555" stroke-width="0.8"/><ellipse cx="310.1" cy="271.5" rx="1.75" ry="2.05" fill="#fff" stroke="#555" stroke-width="0.8"/><ellipse cx="321.2" cy="297" rx="1.75" ry="2.05" fill="#fff" stroke="#555" stroke-width="0.8"/><ellipse cx="331.2" cy="297" rx="1.75" ry="2.05" fill="#fff" stroke="#555" stroke-width="0.8"/><ellipse cx="432.9" cy="322" rx="1.75" ry="2.05" fill="#fff" stroke="#555" stroke-width="0.8"/><ellipse cx="440.2" cy="322" rx="1.75" ry="2.05" fill="#fff" stroke="#555" stroke-width="0.8"/><ellipse cx="295" cy="208" rx="1.75" ry="2.05" fill="#fff" stroke="#555" stroke-width="0.8"/><ellipse cx="297.3" cy="209.2" rx="1.75" ry="2.05" fill="#fff" stroke="#555" stroke-width="0.8"/><ellipse cx="299.6" cy="215" rx="1.75" ry="2.05" fill="#fff" stroke="#555" stroke-width="0.8"/><ellipse cx="300.6" cy="214.6" rx="1.75" ry="2.05" fill="#fff" stroke="#555" stroke-width="0.8"/><ellipse cx="301.5" cy="217.3" rx="1.75" ry="2.05" fill="#fff" stroke="#555" stroke-width="0.8"/><ellipse cx="302.1" cy="216.9" rx="1.75" ry="2.05" fill="#fff" stroke="#555" stroke-width="0.8"/><ellipse cx="302.9" cy="221.5" rx="1.75" ry="2.05" fill="#fff" stroke="#555" stroke-width="0.8"/><ellipse cx="304.4" cy="229" rx="1.75" ry="2.05" fill="#fff" stroke="#555" stroke-width="0.8"/><ellipse cx="305.6" cy="231.3" rx="1.75" ry="2.05" fill="#fff" stroke="#555" stroke-width="0.8"/><ellipse cx="307.3" cy="237.1" rx="1.75" ry="2.05" fill="#fff" stroke="#555" stroke-width="0.8"/><ellipse cx="308.5" cy="242.9" rx="1.75" ry="2.05" fill="#fff" stroke="#555" stroke-width="0.8"/><ellipse cx="310.2" cy="244.6" rx="1.75" ry="2.05" fill="#fff" stroke="#555" stroke-width="0.8"/><ellipse cx="312.2" cy="250.8" rx="1.75" ry="2.05" fill="#fff" stroke="#555" stroke-width="0.8"/><ellipse cx="314.2" cy="256.2" rx="1.75" ry="2.05" fill="#fff" stroke="#555" stroke-width="0.8"/><ellipse cx="316.5" cy="262.3" rx="1.75" ry="2.05" fill="#fff" stroke="#555" stroke-width="0.8"/><ellipse cx="318.8" cy="266.9" rx="1.75" ry="2.05" fill="#fff" stroke="#555" stroke-width="0.8"/><ellipse cx="320" cy="270.2" rx="1.75" ry="2.05" fill="#fff" stroke="#555" stroke-width="0.8"/><ellipse cx="321.5" cy="270.2" rx="1.75" ry="2.05" fill="#fff" stroke="#555" stroke-width="0.8"/><ellipse cx="323" cy="270.2" rx="1.75" ry="2.05" fill="#fff" stroke="#555" stroke-width="0.8"/><ellipse cx="327.3" cy="270.2" rx="1.75" ry="2.05" fill="#fff" stroke="#555" stroke-width="0.8"/><ellipse cx="331.9" cy="270.2" rx="1.75" ry="2.05" fill="#fff" stroke="#555" stroke-width="0.8"/><ellipse cx="336.2" cy="270.2" rx="1.75" ry="2.05" fill="#fff" stroke="#555" stroke-width="0.8"/><ellipse cx="344.2" cy="270.2" rx="1.75" ry="2.05" fill="#fff" stroke="#555" stroke-width="0.8"/><ellipse cx="349.6" cy="270.2" rx="1.75" ry="2.05" fill="#fff" stroke="#555" stroke-width="0.8"/><ellipse cx="354.7" cy="270.2" rx="1.75" ry="2.05" fill="#fff" stroke="#555" stroke-width="0.8"/><ellipse cx="358.1" cy="270.2" rx="1.75" ry="2.05" fill="#fff" stroke="#555" stroke-width="0.8"/><ellipse cx="360.8" cy="270.2" rx="1.75" ry="2.05" fill="#fff" stroke="#555" stroke-width="0.8"/><ellipse cx="364.2" cy="270.2" rx="1.75" ry="2.05" fill="#fff" stroke="#555" stroke-width="0.8"/><ellipse cx="370.3" cy="277.5" rx="1.75" ry="2.05" fill="#fff" stroke="#555" stroke-width="0.8"/><ellipse cx="376.5" cy="277.5" rx="1.75" ry="2.05" fill="#fff" stroke="#555" stroke-width="0.8"/><ellipse cx="380.6" cy="277.5" rx="1.75" ry="2.05" fill="#fff" stroke="#555" stroke-width="0.8"/><ellipse cx="390.8" cy="277.5" rx="1.75" ry="2.05" fill="#fff" stroke="#555" stroke-width="0.8"/><ellipse cx="394.9" cy="277.5" rx="1.75" ry="2.05" fill="#fff" stroke="#555" stroke-width="0.8"/><ellipse cx="399" cy="277.5" rx="1.75" ry="2.05" fill="#fff" stroke="#555" stroke-width="0.8"/><ellipse cx="417.7" cy="277.5" rx="1.75" ry="2.05" fill="#fff" stroke="#555" stroke-width="0.8"/><ellipse cx="439.8" cy="277.5" rx="1.75" ry="2.05" fill="#fff" stroke="#555" stroke-width="0.8"/><ellipse cx="467.3" cy="277.5" rx="1.75" ry="2.05" fill="#fff" stroke="#555" stroke-width="0.8"/><ellipse cx="471.9" cy="277.5" rx="1.75" ry="2.05" fill="#fff" stroke="#555" stroke-width="0.8"/><ellipse cx="484" cy="277.5" rx="1.75" ry="2.05" fill="#fff" stroke="#555" stroke-width="0.8"/><text x="406.5" y="211.5" font-family='"Liberation Serif", serif' font-size="9.6" fill="#000" stroke="#000" stroke-width="0.16" xml:space="preserve" textLength="67.11" lengthAdjust="spacingAndGlyphs">Normal karyotype</text><text x="390.3" y="267.8" font-family='"Liberation Serif", serif' font-size="9.6" fill="#000" stroke="#000" stroke-width="0.16" xml:space="preserve" textLength="76.16" lengthAdjust="spacingAndGlyphs"><tspan font-style="italic" stroke-width="0.28">TET2</tspan> wild   N = 138</text><text x="363.7" y="336.9" font-family='"Liberation Serif", serif' font-size="9.6" fill="#000" stroke="#000" stroke-width="0.16" xml:space="preserve" textLength="67.22" lengthAdjust="spacingAndGlyphs"><tspan font-style="italic" stroke-width="0.28">TET2</tspan> mut  N = 20</text><text x="454.6" y="350.2" font-family='"Liberation Serif", serif' font-size="9.6" fill="#000" stroke="#000" stroke-width="0.16" xml:space="preserve" textLength="36.08" lengthAdjust="spacingAndGlyphs"><tspan font-style="italic" stroke-width="0.28">P</tspan> = 0.076</text></g>
</svg></body></html>
